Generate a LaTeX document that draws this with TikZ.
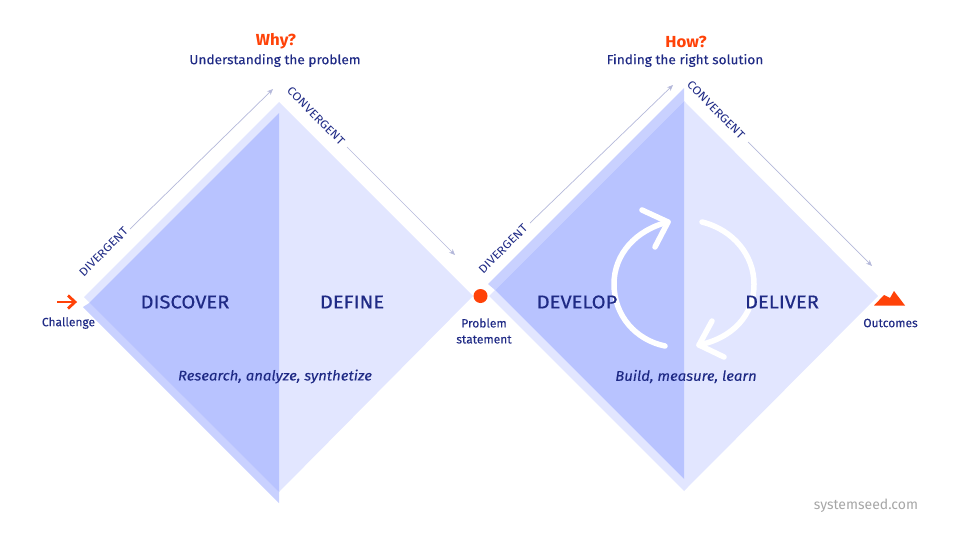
\documentclass[tikz,border=0pt]{standalone}
\usepackage{fontspec}
\setmainfont{Fira Sans}[FakeBold=0.1]
\newfontfamily\medfont{Fira Sans}[FakeBold=0.5,FakeStretch=1.09]
\newfontfamily\wdfont{Fira Sans}[FakeStretch=1.05,FakeBold=0.15]
\newfontfamily\dirfont{Fira Sans}[FakeStretch=1.11]
\newfontfamily\boldfont{Fira Sans Bold}[FakeStretch=1.05]
\newfontfamily\itfont{Fira Sans Italic}[FakeStretch=1.065,FakeBold=0.1]
\newfontfamily\plainfont{Fira Sans}
\definecolor{navy}{HTML}{1F2A85}
\definecolor{dark}{HTML}{B8C3FF}
\definecolor{midc}{HTML}{C9D1FF}
\definecolor{lite}{HTML}{E2E6FF}
\definecolor{orng}{HTML}{FF4208}
\definecolor{arrc}{HTML}{B4B8DA}
\usetikzlibrary{arrows.meta}
\tikzset{
  x=1pt,y=-1pt,
  txt/.style={text=navy,inner sep=0pt,align=center,font=\fontsize{12}{16}\selectfont},
  head/.style={text=navy,inner sep=0pt,font=\wdfont\fontsize{13}{15}\selectfont},
  why/.style={text=orng,inner sep=0pt,font=\boldfont\fontsize{16}{17}\selectfont},
  phase/.style={text=navy,inner sep=0pt,font=\medfont\fontsize{18.5}{20}\selectfont},
  act/.style={text=navy,inner sep=0pt,font=\itfont\fontsize{14}{16}\selectfont},
  dirl/.style={text=navy,inner sep=0pt,font=\dirfont\fontsize{11.5}{13}\selectfont},
  dirarrow/.style={draw=arrc,line width=0.7pt,-{Stealth[length=6pt,width=5pt]}},
  loopline/.style={draw=white,line width=5.5pt,line cap=round,line join=round},
}
\begin{document}
\begin{tikzpicture}
\useasboundingbox (0,0) rectangle (960,535);
% first diamond
\fill[lite] (279,102) -- (473,296) -- (279,492) -- cycle;
\fill[lite] (279,102) -- (84,297) -- (90,303) -- (279,114) -- cycle;
\fill[midc] (279,503) -- (83,307) -- (90,302.5) -- (279,492) -- cycle;
\fill[dark] (279,113) -- (89.5,302.5) -- (279,492) -- cycle;
% second diamond
\fill[lite] (684,101) -- (878,296) -- (684,491) -- cycle;
\fill[midc] (684,88) -- (488,284) -- (495,290) -- (684,101) -- cycle;
\fill[lite] (684,491) -- (489,296) -- (495,290) -- (684,479) -- cycle;
\fill[dark] (684,101) -- (495,290) -- (684,479) -- cycle;
% loop arrows
\draw[loopline] (668,222) .. controls (636,230) and (614,254) .. (614,284) .. controls (614,316) and (636,340) .. (665,346);
\draw[loopline] (642,210) -- (668,222) -- (655,247);
\draw[loopline] (702,222) .. controls (734,230) and (754,256) .. (754,284) .. controls (754,316) and (732,338) .. (699,345);
\draw[loopline] (712,321) -- (699,345) -- (724,357);
% coordinates & arrows
\coordinate (da1s) at (130,229); \coordinate (da1e) at (273,89);
\coordinate (da2s) at (530,223); \coordinate (da2e) at (673,85);
\coordinate (ca1s) at (347,147); \coordinate (ca1e) at (455,255);
\coordinate (ca2s) at (748,142); \coordinate (ca2e) at (872,266);
\draw[dirarrow] (da1s) -- (da1e);
\draw[dirarrow] (da2s) -- (da2e);
\draw[dirarrow] (ca1s) -- (ca1e);
\draw[dirarrow] (ca2s) -- (ca2e);
% labels
\node[dirl,rotate=45] (dv1) at (103.5,252) {DIVERGENT};
\node[dirl,rotate=45] (dv2) at (503,249) {DIVERGENT};
\node[dirl,rotate=-45] (cv1) at (316,116) {CONVERGENT};
\node[dirl,rotate=-45] (cv2) at (716,110) {CONVERGENT};
\node[why] (w1) at (276,41.5) {Why?};
\node[head] (u1) at (275,60.5) {Understanding the problem};
\node[why] (w2) at (686,41.5) {How?};
\node[head] (u2) at (685,60.5) {Finding the right solution};
\node[phase] (p1) at (185,302) {DISCOVER};
\node[phase] (p2) at (352,302) {DEFINE};
\node[phase] (p3) at (577,302) {DEVELOP};
\node[phase] (p4) at (782,302) {DELIVER};
\node[act] (a1) at (275,376.5) {Research, analyze, synthetize};
\node[act] (a2) at (686,376.5) {Build, measure, learn};
\node[txt] (c) at (68.5,323) {Challenge};
\node[txt] (ps) at (484,331) {Problem\\statement};
\node[txt] (o) at (890.5,323) {Outcomes};
\node[inner sep=0pt,text=black!35,font=\plainfont\fontsize{14}{16}\selectfont] (ss) at (866,506) {systemseed.com};
% symbols
\fill[orng] (480.5,296) circle (7);
\coordinate (cha) at (57,302); \coordinate (chb) at (75,302);
\draw[orng,line width=2.8pt] (cha) -- (chb);
\draw[orng,line width=2.8pt] (68,295.5) -- (75,302) -- (68,308.5);
\fill[orng] (874,305.5) -- (884,295) -- (890,298) -- (894,291) -- (905,305.5) -- cycle;
\end{tikzpicture}
\end{document}
